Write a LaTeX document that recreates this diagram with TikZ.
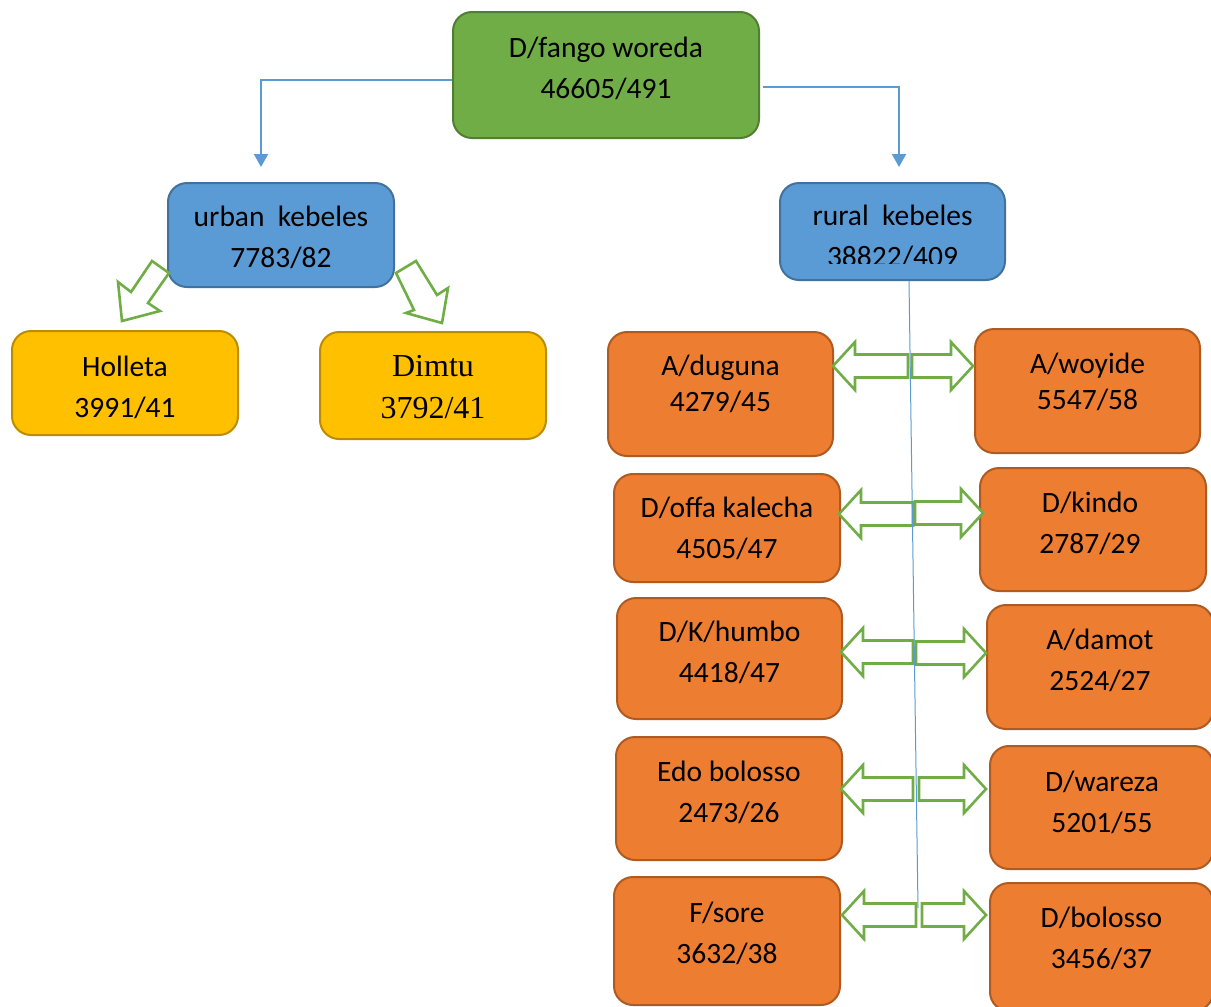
\documentclass[tikz,border=0pt]{standalone}
\usepackage{fontspec}
\setmainfont{Carlito}
\newfontfamily\timesfont{Liberation Serif}
\usetikzlibrary{arrows.meta,calc}
\definecolor{gfill}{HTML}{70AD47}
\definecolor{gline}{HTML}{507E32}
\definecolor{bfill}{HTML}{5B9BD5}
\definecolor{bline}{HTML}{41719C}
\definecolor{yfill}{HTML}{FFC000}
\definecolor{yline}{HTML}{BC8C00}
\definecolor{ofill}{HTML}{ED7D31}
\definecolor{oline}{HTML}{AE5A21}
\definecolor{conn}{HTML}{5B9BD5}
\definecolor{blkc}{HTML}{70AD47}
\newcommand\blkarrow[4]{%
  \draw[blk] (#1,#3) -- ({#1+#4*22},{#3-24}) -- ({#1+#4*22},{#3-11.5}) -- (#2,{#3-11.5})
    -- (#2,{#3+11.5}) -- ({#1+#4*22},{#3+11.5}) -- ({#1+#4*22},{#3+24}) -- cycle;}
\begin{document}
\begin{tikzpicture}[x=1pt,y=-1pt,
  boxbase/.style={rectangle, rounded corners=19pt, line width=2pt, inner sep=0pt},
  gbox/.style={boxbase, fill=gfill, draw=gline},
  bbox/.style={boxbase, fill=bfill, draw=bline},
  ybox/.style={boxbase, fill=yfill, draw=yline},
  obox/.style={boxbase, fill=ofill, draw=oline},
  txt/.style={align=center, inner sep=0pt, font=\fontsize{29.5}{41}\selectfont},
  txtb/.style={align=center, inner sep=0pt, font=\fontsize{29.5}{36}\selectfont},
  txts/.style={align=center, inner sep=0pt, font=\timesfont\fontsize{32}{42}\selectfont},
  conarrow/.style={draw=conn, line width=2.2pt, -{Triangle[width=14pt,length=13pt]}},
  thin/.style={draw=conn, line width=1pt},
  blk/.style={draw=blkc, line width=2.6pt, fill=white, line join=miter}]
\useasboundingbox (0,0) rectangle (1211,1007);

% top
\node[gbox, minimum width=306, minimum height=126] (woreda) at (606,75) {};
\node[txt] (woredat) at (606,68.5) {D/fango woreda\\46605/491};

% second level
\node[bbox, minimum width=226, minimum height=104] (urban) at (281,235) {};
\node[txt] (urbant) at (281,237.5) {urban\ \ kebeles\\7783/82};
\node[bbox, minimum width=225, minimum height=97] (rural) at (892.5,231.5) {};
\begin{scope}
  \clip (780,183) rectangle (1005,263);
  \node[txt] (ruralt) at (892.5,236.5) {rural\ \ kebeles\\38822/409};
\end{scope}

% urban children
\node[ybox, minimum width=226, minimum height=104] (holleta) at (125,383) {};
\node[txt] (holletat) at (125,387) {Holleta\\3991/41};
\node[ybox, minimum width=226, minimum height=107] (dimtu) at (433,385.5) {};
\node[txts] (dimtut) at (433,387) {Dimtu\\3792/41};

% rural children
\node[obox, minimum width=225, minimum height=124] (aduguna) at (720.5,394) {};
\node[txtb] (adugunat) at (720.5,384) {A/duguna\\4279/45};
\node[obox, minimum width=225, minimum height=124] (awoyide) at (1087.5,391) {};
\node[txtb] (awoyidet) at (1087.5,381.5) {A/woyide\\5547/58};

\node[obox, minimum width=226, minimum height=108] (doffa) at (727,528) {};
\node[txt] (doffat) at (727,528.5) {D/offa kalecha\\4505/47};
\node[obox, minimum width=226, minimum height=123] (dkindo) at (1093,529.5) {};
\node[txt] (dkindot) at (1090,523.5) {D/kindo\\2787/29};

\node[obox, minimum width=225, minimum height=121] (dkhumbo) at (729.5,658.5) {};
\node[txt] (dkhumbot) at (729.5,652.5) {D/K/humbo\\4418/47};
\node[obox, minimum width=226, minimum height=124] (adamot) at (1100,667) {};
\node[txt] (adamott) at (1100,660.5) {A/damot\\2524/27};

\node[obox, minimum width=226, minimum height=123] (edo) at (729,798.5) {};
\node[txt] (edot) at (729,792.5) {Edo bolosso\\2473/26};
\node[obox, minimum width=223, minimum height=123] (dwareza) at (1101.5,807.5) {};
\node[txt] (dwarezat) at (1102,802.5) {D/wareza\\5201/55};

\node[obox, minimum width=226, minimum height=128] (fsore) at (727,941) {};
\node[txt] (fsoret) at (727,933.5) {F/sore\\3632/38};
\node[obox, minimum width=223, minimum height=128] (dbolosso) at (1101.5,947) {};
\node[txt] (dbolossot) at (1101.5,938.5) {D/bolosso\\3456/37};

% elbow connectors
\coordinate (utop) at (261,167);
\coordinate (rtop) at (899,167);
\coordinate (rstart) at (763,87);
\draw[conarrow] ($(woreda.west)+(0,5)$) -| (utop);
\draw[conarrow] (rstart) -| (rtop);

% block arrows urban
\draw[blk] (122,321) -- (160,311) -- (148,303) -- (169,273) -- (152,261) -- (131,292) -- (118,282) -- cycle;
\draw[blk] (442,323) -- (406,313) -- (414,310) -- (396,273) -- (416,261) -- (437,295) -- (448,288) -- cycle;

% block arrows rural
\blkarrow{833}{908}{366}{1}
\blkarrow{973}{912}{366}{-1}
\blkarrow{839}{913}{514}{1}
\blkarrow{983}{915}{513}{-1}
\blkarrow{841}{913}{652}{1}
\blkarrow{986}{916}{653}{-1}
\blkarrow{841}{913}{789}{1}
\blkarrow{986}{919}{789}{-1}
\blkarrow{842}{916}{915}{1}
\blkarrow{986}{922}{915}{-1}

% thin line
\coordinate (lstart) at (909,281);
\coordinate (lend) at (918,908);
\draw[thin] (lstart) -- (lend);
\end{tikzpicture}
\end{document}
